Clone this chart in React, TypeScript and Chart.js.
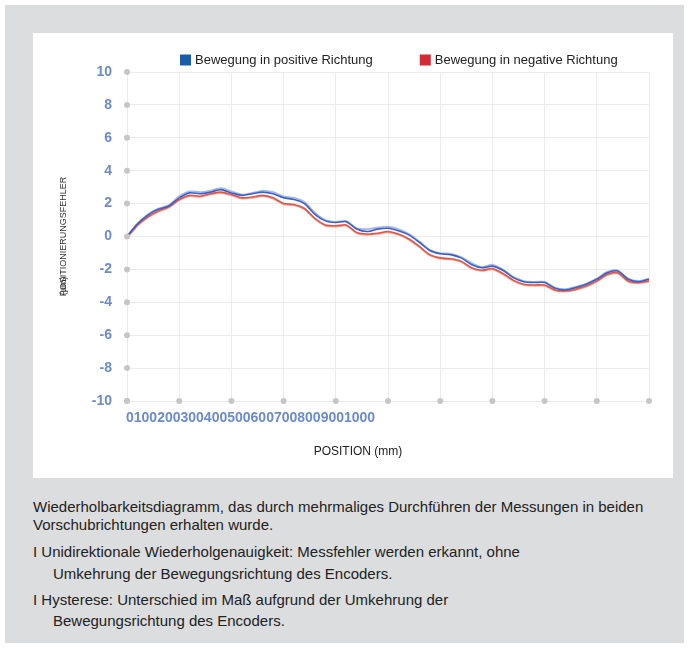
import React, { useEffect, useRef } from "react";
import { Chart, registerables } from "chart.js";

Chart.register(...registerables);

const positions = [0,20,40,60,80,100,120,140,160,180,200,220,240,260,280,300,320,340,360,380,400,420,440,460,480,500,520,540,560,580,600,620,640,660,680,700,720,740,760,780,800,820,840,860,880,900,920,940,960,980,1000];

const positiveRun1 = [0,0.75,1.3,1.65,1.85,2.35,2.65,2.6,2.7,2.85,2.65,2.5,2.6,2.7,2.6,2.35,2.25,2.0,1.35,0.95,0.85,0.9,0.45,0.3,0.45,0.5,0.35,0.1,-0.35,-0.85,-1.05,-1.1,-1.3,-1.7,-1.9,-1.8,-2.05,-2.5,-2.75,-2.8,-2.8,-3.15,-3.25,-3.1,-2.9,-2.6,-2.2,-2.1,-2.6,-2.75,-2.6];
const positiveRun2 = [0.05,0.8,1.35,1.7,1.9,2.45,2.75,2.7,2.8,2.95,2.75,2.55,2.65,2.8,2.7,2.45,2.35,2.1,1.45,1.0,0.9,0.95,0.5,0.45,0.55,0.6,0.45,0.15,-0.3,-0.8,-1.0,-1.05,-1.25,-1.6,-1.85,-1.7,-2.0,-2.45,-2.7,-2.75,-2.75,-3.1,-3.2,-3.05,-2.85,-2.55,-2.15,-2.05,-2.55,-2.7,-2.55];
const negativeRun1 = [-0.05,0.7,1.2,1.55,1.8,2.25,2.5,2.45,2.6,2.7,2.55,2.35,2.4,2.5,2.35,2.0,1.95,1.7,1.1,0.7,0.65,0.7,0.25,0.15,0.2,0.3,0.15,-0.15,-0.6,-1.1,-1.3,-1.35,-1.5,-1.9,-2.05,-1.95,-2.25,-2.65,-2.9,-2.95,-2.95,-3.25,-3.3,-3.2,-3.0,-2.7,-2.3,-2.2,-2.7,-2.8,-2.7];
const negativeRun2 = [-0.1,0.65,1.15,1.5,1.75,2.2,2.45,2.4,2.55,2.65,2.5,2.3,2.35,2.45,2.3,1.95,1.9,1.65,1.05,0.65,0.6,0.65,0.2,0.1,0.15,0.25,0.1,-0.2,-0.65,-1.15,-1.35,-1.4,-1.55,-1.95,-2.1,-2.0,-2.3,-2.7,-2.95,-3.0,-3.0,-3.3,-3.35,-3.25,-3.05,-2.75,-2.35,-2.25,-2.75,-2.85,-2.75];

const xTickLabels = ["0","100","200","300","400","500","600","700","800","900","1000"];
const yTickLabels = ["10","8","6","4","2","0","-2","-4","-6","-8","-10"];
const legendLabels = ["Bewegung in positive Richtung", "Bewegung in negative Richtung"];
const legendColors = ["#1a5ca8", "#d42a33"];
const xTitle = "POSITION (mm)";
const yTitle = "POSITIONIERUNGSFEHLER";
const yUnit = "(µm)";

const tickColor = "#6b8bd0";
const FONT = "Arial, 'Liberation Sans', sans-serif";

const decorPlugin = {
  id: "decor",
  afterDraw(chart: any) {
    const { ctx, chartArea, scales } = chart;
    const xs = scales.x;
    const ys = scales.y;
    ctx.save();
    ctx.fillStyle = "#c6c6c6";
    yTickLabels.forEach((l) => {
      const y = ys.getPixelForValue(Number(l));
      ctx.beginPath();
      ctx.arc(chartArea.left, y, 3, 0, Math.PI * 2);
      ctx.fill();
    });
    xTickLabels.forEach((l) => {
      const x = xs.getPixelForValue(Number(l));
      ctx.beginPath();
      ctx.arc(x, chartArea.bottom, 3, 0, Math.PI * 2);
      ctx.fill();
    });
    ctx.fillStyle = tickColor;
    ctx.font = `bold 14px ${FONT}`;
    ctx.textAlign = "left";
    ctx.textBaseline = "middle";
    ctx.fillText(xTickLabels.join(""), chartArea.left - 1, chartArea.bottom + 17);
    ctx.fillStyle = "#222";
    ctx.font = `12px ${FONT}`;
    ctx.textAlign = "center";
    ctx.fillText(xTitle, chart.width / 2 + 5, chartArea.bottom + 51);
    const cy = (chartArea.top + chartArea.bottom) / 2;
    ctx.save();
    ctx.translate(31, cy);
    ctx.rotate(-Math.PI / 2);
    ctx.font = `9px ${FONT}`;
    ctx.textAlign = "center";
    ctx.fillStyle = "#333";
    ctx.fillText(yTitle, 0, 0);
    const w = ctx.measureText(yTitle).width;
    ctx.textAlign = "left";
    ctx.fillText(yUnit, -w / 2 + 1, 0);
    ctx.restore();
    ctx.font = `13px ${FONT}`;
    ctx.textAlign = "left";
    ctx.textBaseline = "middle";
    let lx = chartArea.left + 53;
    const ly = chartArea.top - 12;
    legendLabels.forEach((lab, i) => {
      ctx.fillStyle = legendColors[i];
      ctx.fillRect(lx, ly - 5.5, 11, 11);
      ctx.fillStyle = "#222";
      ctx.fillText(lab, lx + 15, ly);
      lx += 15 + ctx.measureText(lab).width + 47;
    });
    ctx.restore();
  },
};

function ChartView() {
  const ref = useRef<HTMLCanvasElement | null>(null);
  useEffect(() => {
    if (!ref.current) return;
    const mk = (d: number[], c: string, w: number) => ({
      data: positions.map((p, i) => ({ x: p, y: d[i] })),
      borderColor: c,
      backgroundColor: c,
      borderWidth: w,
      pointRadius: 0,
      tension: 0.25,
      fill: false,
    });
    const chart = new Chart(ref.current, {
      type: "line",
      data: {
        datasets: [
          { label: legendLabels[0], ...mk(positiveRun1, "#3d5fc4", 1.6) },
          { label: legendLabels[1], ...mk(negativeRun1, "#e2574c", 1.6) },
          { label: "run2+", ...mk(positiveRun2, "#a3b8e8", 1.6) },
          { label: "run2-", ...mk(negativeRun2, "#f3a48e", 1.6) },
        ],
      },
      options: {
        animation: false,
        responsive: false,
        maintainAspectRatio: false,
        layout: { padding: { top: 39, right: 24, left: 0, bottom: 0 } },
        plugins: { legend: { display: false }, tooltip: { enabled: false } },
        scales: {
          x: {
            type: "linear",
            min: 0,
            max: 1000,
            ticks: { display: false, stepSize: 100 },
            grid: { color: "#ececec", drawTicks: false },
            border: { display: false },
            afterFit: (s: any) => { s.height = 77; },
          },
          y: {
            type: "linear",
            min: -10,
            max: 10,
            ticks: {
              stepSize: 2,
              padding: 15,
              color: tickColor,
              font: { size: 14, weight: "bold", family: FONT },
              callback: (v: any) => yTickLabels.find((l) => Number(l) === v) ?? "",
            },
            grid: { color: "#ececec", drawTicks: false },
            border: { display: false },
            afterFit: (s: any) => { s.width = 94; },
          },
        },
      },
      plugins: [decorPlugin],
    } as any);
    return () => chart.destroy();
  }, []);
  return <canvas ref={ref} width={640} height={445} style={{ display: "block" }} />;
}

const textLines = [
  { text: "Wiederholbarkeitsdiagramm, das durch mehrmaliges Durchführen der Messungen in beiden", x: 33, y: 507 },
  { text: "Vorschubrichtungen erhalten wurde.", x: 33, y: 525 },
  { text: "I Unidirektionale Wiederholgenauigkeit: Messfehler werden erkannt, ohne", x: 33, y: 552 },
  { text: "Umkehrung der Bewegungsrichtung des Encoders.", x: 53, y: 574 },
  { text: "I Hysterese: Unterschied im Maß aufgrund der Umkehrung der", x: 33, y: 600 },
  { text: "Bewegungsrichtung des Encoders.", x: 53, y: 621 },
];

export default function App() {
  return (
    <div>
      <div style={{ position: "absolute", left: 5, top: 5, width: 679, height: 638, background: "#dcdddf" }} />
      <div style={{ position: "absolute", left: 33, top: 33, width: 640, height: 445, background: "#fff" }}>
        <ChartView />
      </div>
      {textLines.map((l, i) => (
        <div
          key={i}
          style={{
            position: "absolute",
            left: l.x,
            top: l.y - 9,
            lineHeight: "18px",
            fontSize: 15,
            fontFamily: FONT,
            color: "#222",
            whiteSpace: "nowrap",
          }}
        >
          {l.text}
        </div>
      ))}
    </div>
  );
}
